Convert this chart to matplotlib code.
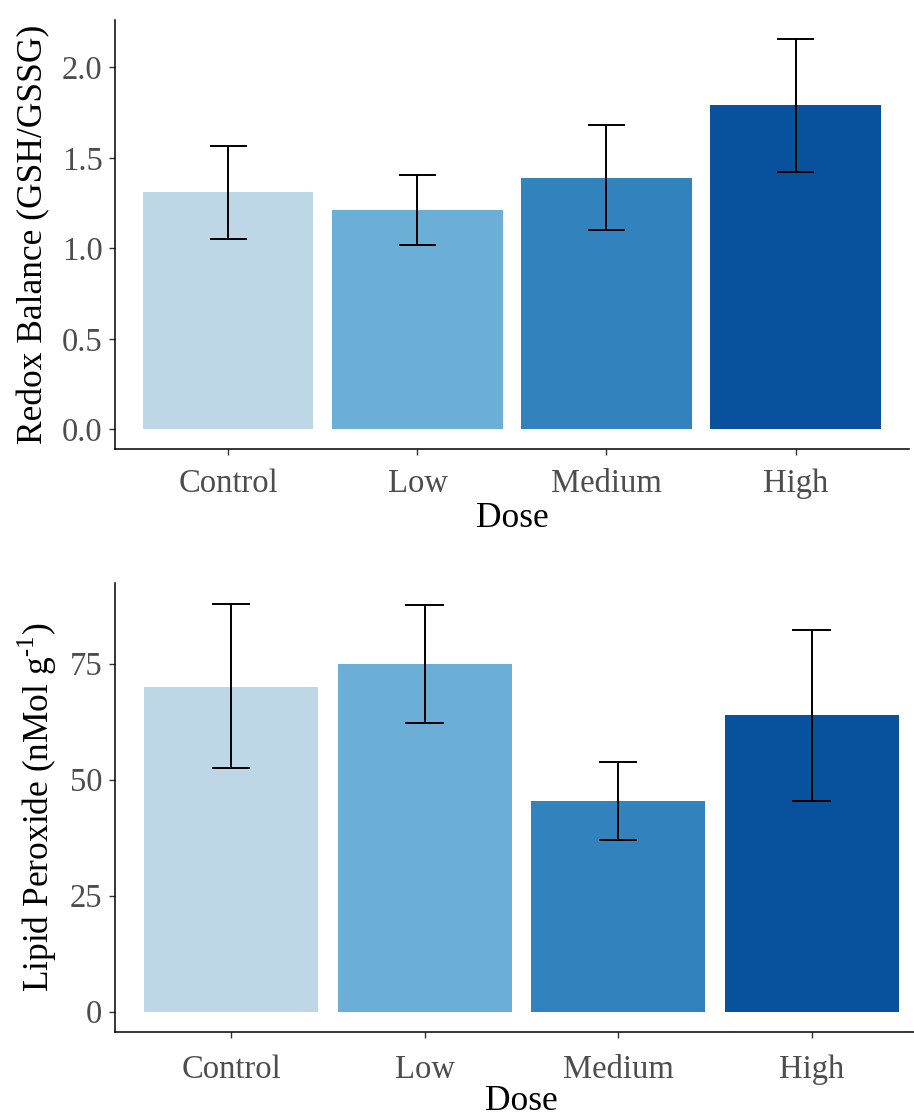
import numpy as np
import matplotlib
matplotlib.use("Agg")
import matplotlib.pyplot as plt

# Data
doses = ["Control", "Low", "Medium", "High"]
colors = ["#bdd7e7", "#6baed6", "#3182bd", "#08519c"]

redox_mean = [1.31, 1.21, 1.39, 1.79]
redox_lo = [1.055, 1.02, 1.10, 1.42]
redox_hi = [1.565, 1.405, 1.68, 2.155]

lipid_mean = [70.0, 74.9, 45.3, 64.0]
lipid_lo = [52.4, 62.1, 36.9, 45.5]
lipid_hi = [87.9, 87.6, 53.9, 82.3]

plt.rcParams.update({
    "font.family": ["Liberation Serif", "DejaVu Serif"],
    "mathtext.fontset": "custom",
    "mathtext.rm": "Liberation Serif",
    "axes.linewidth": 1.1,
})

TICK_FS = 23.5
LAB_FS = 25.5
GREY = "#4d4d4d"

fig = plt.figure(figsize=(9.14, 11.19), dpi=100)
ax1 = fig.add_axes([0.1258, 0.5988, 0.8687, 0.3834])
ax2 = fig.add_axes([0.1258, 0.0777, 0.8892, 0.4010])


def draw(ax, mean, lo, hi, ylabel, yticks, yticklabels, xpad, xlabpad):
    x = np.arange(1, len(doses) + 1)
    ax.bar(x, mean, width=0.9, color=colors, linewidth=0)
    ax.vlines(x, lo, hi, color="black", lw=1.4)
    ax.hlines(lo, x - 0.1, x + 0.1, color="black", lw=1.4)
    ax.hlines(hi, x - 0.1, x + 0.1, color="black", lw=1.4)
    top = max(hi)
    ax.set_ylim(-0.05 * top, 1.05 * top)
    ax.set_xlim(0.4, 4.6)
    ax.set_xticks(x)
    ax.set_xticklabels(doses)
    ax.set_yticks(yticks)
    ax.set_yticklabels(yticklabels)
    for s in ["top", "right"]:
        ax.spines[s].set_visible(False)
    ax.tick_params(axis="both", labelsize=TICK_FS, labelcolor=GREY,
                   length=4, width=1.0, color="#333333", pad=5)
    ax.tick_params(axis="x", pad=xpad)
    ax.set_xlabel("Dose", fontsize=LAB_FS, labelpad=xlabpad)
    ax.set_ylabel(ylabel, fontsize=LAB_FS, labelpad=8)


draw(ax1, redox_mean, redox_lo, redox_hi, "Redox Balance (GSH/GSSG)",
     [0, 0.5, 1.0, 1.5, 2.0], ["0.0", "0.5", "1.0", "1.5", "2.0"], 10, 2)
draw(ax2, lipid_mean, lipid_lo, lipid_hi,
     r"Lipid Peroxide (nMol g$^{\text{-1}}$)",
     [0, 25, 50, 75], ["0", "25", "50", "75"], 12.5, 0)

fig.savefig("out.png", dpi=100)
